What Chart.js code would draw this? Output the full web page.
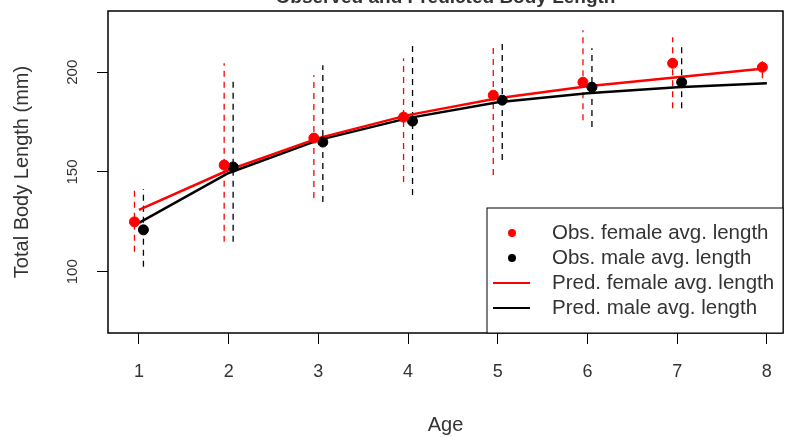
<!DOCTYPE html>
<html>
<head>
<meta charset="utf-8">
<script src="https://cdn.jsdelivr.net/npm/chart.js@4/dist/chart.umd.min.js"></script>
<style>
  html, body { margin: 0; padding: 0; background: #fff; }
  #growth { display: block; }
</style>
</head>
<body>
<canvas id="growth" width="786" height="437"></canvas>
<script>
const ages = [1, 2, 3, 4, 5, 6, 7, 8];
const femaleObs = [125, 153.5, 167, 177.5, 188.5, 195, 204.5, 202.5];
const maleObs = [121, 152.5, 165, 175.5, 186, 192.5, 195, null];
const femaleLow = [110, 115, 137, 145, 148.5, 176, 182, 197];
const femaleHigh = [141.5, 204.5, 198.5, 207, 213.5, 221, 217.5, 208];
const maleLow = [102.5, 115, 135, 138.5, 156, 172.5, 182, null];
const maleHigh = [141.5, 196, 203.5, 213.5, 214.5, 212, 214.5, null];
const femalePred = [131, 151, 167, 178.5, 187, 193, 197.5, 202];
const malePred = [124.5, 149.5, 166, 177, 185, 189.5, 192.5, 194.5];
const yTicks = [100, 150, 200];
const xTicks = ages;
const titleText = 'Observed and Predicted Body Length';
const legendItems = [
  { label: 'Obs. female avg. length', color: '#ff0000', type: 'point' },
  { label: 'Obs. male avg. length', color: '#000000', type: 'point' },
  { label: 'Pred. female avg. length', color: '#ff0000', type: 'line' },
  { label: 'Pred. male avg. length', color: '#000000', type: 'line' },
];

const shift = 0.05;
const font = '"Liberation Sans", Arial, sans-serif';
const textColor = '#333';
Chart.defaults.font.family = font;
Chart.defaults.color = textColor;

// vertical dashed bars: low -> high, then a gap
function bars(low, high, dx) {
  const pts = [];
  ages.forEach((a, i) => {
    if (low[i] == null) return;
    pts.push({ x: a + dx, y: low[i] }, { x: a + dx, y: high[i] }, { x: a + dx, y: null });
  });
  return pts;
}
const pts = (vals, dx) => ages.map((a, i) => ({ x: a + dx, y: vals[i] })).filter(p => p.y != null);

const frame = {
  id: 'frame',
  afterDraw(chart) {
    const { ctx, chartArea: a, scales } = chart;
    ctx.save();
    // box
    ctx.strokeStyle = '#000';
    ctx.lineWidth = 1.5;
    ctx.strokeRect(a.left, a.top, a.right - a.left, a.bottom - a.top);
    // y tick labels, parallel to axis like R
    ctx.fillStyle = textColor;
    ctx.font = '15px ' + font;
    ctx.textAlign = 'center';
    ctx.textBaseline = 'middle';
    scales.y.ticks.forEach(t => {
      const y = scales.y.getPixelForValue(t.value);
      ctx.save();
      ctx.translate(73, y);
      ctx.rotate(-Math.PI / 2);
      ctx.fillText(String(t.value), 0, 0);
      ctx.restore();
    });
    // title, mostly cut off at the top
    ctx.font = 'bold 19px ' + font;
    ctx.textBaseline = 'alphabetic';
    ctx.fillText(titleText, (a.left + a.right) / 2, 3);
    // legend, bottom right
    const lw = 296, lh = 125;
    const lx = a.right - lw, ly = a.bottom - lh;
    ctx.fillStyle = '#fff';
    ctx.fillRect(lx, ly, lw, lh);
    ctx.strokeStyle = '#000';
    ctx.lineWidth = 1;
    ctx.strokeRect(lx, ly, lw, lh);
    ctx.font = '20.5px ' + font;
    ctx.textAlign = 'left';
    ctx.textBaseline = 'middle';
    legendItems.forEach((it, i) => {
      const y = ly + 25 + i * 25;
      if (it.type === 'point') {
        ctx.fillStyle = it.color;
        ctx.beginPath();
        ctx.arc(lx + 25, y, 4, 0, Math.PI * 2);
        ctx.fill();
      } else {
        ctx.strokeStyle = it.color;
        ctx.lineWidth = 2;
        ctx.beginPath();
        ctx.moveTo(lx + 6, y);
        ctx.lineTo(lx + 43, y);
        ctx.stroke();
      }
      ctx.fillStyle = textColor;
      ctx.fillText(it.label, lx + 65, y);
    });
    ctx.restore();
  }
};

new Chart(document.getElementById('growth'), {
  type: 'scatter',
  data: {
    datasets: [
      { data: pts(femaleObs, -shift), backgroundColor: '#ff0000', borderColor: '#ff0000', pointRadius: 5, showLine: false },
      { data: pts(maleObs, shift), backgroundColor: '#000', borderColor: '#000', pointRadius: 5, showLine: false },
      { data: pts(femalePred, 0), borderColor: '#ff0000', borderWidth: 2.5, pointRadius: 0, showLine: true },
      { data: pts(malePred, 0), borderColor: '#000', borderWidth: 2.5, pointRadius: 0, showLine: true },
      { data: bars(femaleLow, femaleHigh, -shift), borderColor: '#ff0000', borderWidth: 1.3, borderDash: [6, 5], pointRadius: 0, showLine: true, spanGaps: false },
      { data: bars(maleLow, maleHigh, shift), borderColor: '#000', borderWidth: 1.3, borderDash: [6, 5], pointRadius: 0, showLine: true, spanGaps: false },
    ]
  },
  options: {
    responsive: false,
    animation: false,
    layout: { autoPadding: false, padding: { top: 11, right: 3, left: 0, bottom: 0 } },
    plugins: { legend: { display: false }, tooltip: { enabled: false } },
    scales: {
      x: {
        type: 'linear',
        min: 0.655,
        max: 8.18,
        afterBuildTicks: s => { s.ticks = xTicks.map(v => ({ value: v })); },
        afterFit: s => { s.height = 104; s.paddingLeft = 0; s.paddingRight = 0; },
        grid: { drawOnChartArea: false, color: '#000', tickLength: 11 },
        border: { display: false },
        ticks: { padding: 17, font: { size: 18 }, color: textColor },
        title: { display: true, text: 'Age', font: { size: 20 }, padding: { top: 0, bottom: 0 }, color: textColor }
      },
      y: {
        min: 69.3,
        max: 230.7,
        afterBuildTicks: s => { s.ticks = yTicks.map(v => ({ value: v })); },
        afterFit: s => { s.width = 108; },
        grid: { drawOnChartArea: false, color: '#000', tickLength: 11 },
        border: { display: false },
        ticks: { display: false },
        title: { display: true, text: 'Total Body Length (mm)', font: { size: 20 }, padding: { top: 10, bottom: 0 }, color: textColor }
      }
    }
  },
  plugins: [frame]
});
</script>
</body>
</html>
